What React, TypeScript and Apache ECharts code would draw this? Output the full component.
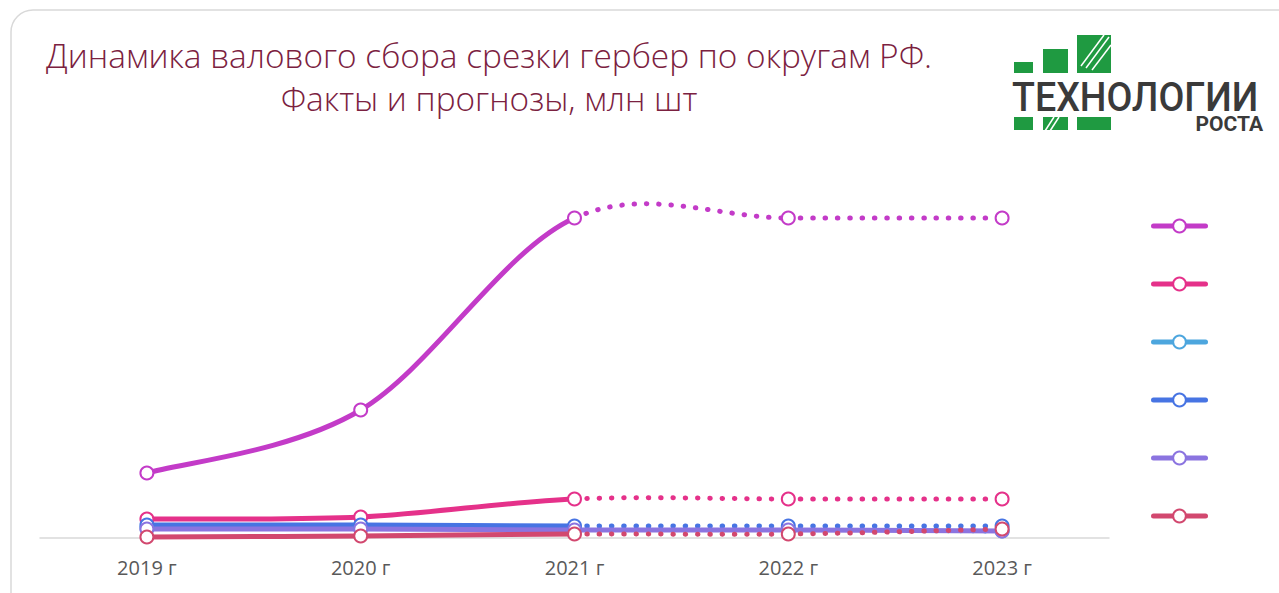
import React, { useEffect, useRef } from 'react';
import * as echarts from 'echarts';

const years = ['2019 г', '2020 г', '2021 г', '2022 г', '2023 г'];
const districtNames = ['ЦФО', 'ЮФО', 'СЗФО', 'ПФО', 'СФО', 'УФО'];
const colors = ['#C33BC8', '#E5318A', '#4DA6DE', '#4774E3', '#8B74E0', '#D2486F'];
const valuesCFO = [6.5, 12.8, 32.0, 32.0, 32.0];
const valuesUFO = [1.9, 2.1, 3.9, 3.9, 3.9];
const valuesSZFO = [1.0, 1.0, 0.9, 0.8, 0.7];
const valuesPFO = [1.3, 1.3, 1.2, 1.2, 1.2];
const valuesSFO = [0.9, 0.9, 0.8, 0.8, 0.7];
const valuesUrFO = [0.1, 0.2, 0.4, 0.4, 0.9];
const allValues = [valuesCFO, valuesUFO, valuesSZFO, valuesPFO, valuesSFO, valuesUrFO];
// index of last year drawn with a solid line (the rest is forecast, dotted)
const lastFactIndex = [2, 2, 2, 2, 4, 2];

const titleLine1 = 'Динамика валового сбора срезки гербер по округам РФ.';
const titleLine2 = 'Факты и прогнозы, млн шт';

const GREEN = '#1F9A41';
const LINE_W = 5;

export default function App() {
  const ref = useRef<HTMLDivElement>(null);
  useEffect(() => {
    if (!ref.current) return;
    const chart = echarts.init(ref.current, undefined, { renderer: 'svg' });
    const curveSeries: any[] = [];
    const markerSeries: any[] = [];
    allValues.forEach((vals, k) => {
      const color = colors[k];
      const end = lastFactIndex[k];
      curveSeries.push({
        type: 'custom',
        name: districtNames[k] + ' линия',
        data: vals.map((v, i) => [i, v]),
        encode: { x: 0, y: 1 },
        z: 2,
        silent: true,
        renderItem: (params: any, api: any) => {
          if (params.dataIndex !== 0) return null;
          const p = vals.map((v, i) => api.coord([i, v]));
          const n = p.length;
          const tangent = (i: number) => {
            const a = p[Math.max(0, i - 1)];
            const b = p[Math.min(n - 1, i + 1)];
            return [(b[0] - a[0]) / 6, (b[1] - a[1]) / 6];
          };
          const children: any[] = [];
          for (let i = 0; i < n - 1; i++) {
            const t0 = tangent(i);
            const t1 = tangent(i + 1);
            const dotted = i >= end;
            children.push({
              type: 'bezierCurve',
              shape: {
                x1: p[i][0], y1: p[i][1],
                cpx1: p[i][0] + t0[0], cpy1: p[i][1] + t0[1],
                cpx2: p[i + 1][0] - t1[0], cpy2: p[i + 1][1] - t1[1],
                x2: p[i + 1][0], y2: p[i + 1][1],
              },
              style: dotted
                ? { stroke: color, lineWidth: LINE_W, lineDash: [0.5, 11.8], lineCap: 'round', fill: null }
                : { stroke: color, lineWidth: LINE_W, lineCap: 'round', fill: null },
            });
          }
          return { type: 'group', children };
        },
      });
      markerSeries.push({
        type: 'line',
        name: districtNames[k],
        data: vals,
        symbol: 'emptyCircle',
        symbolSize: 13,
        showAllSymbol: true,
        lineStyle: { width: LINE_W, color, opacity: 0 },
        itemStyle: { color, borderWidth: 2 },
        z: 3,
      });
    });

    const logoLines = [
      [1081, 66, 1104, 35],
      [1086, 68, 1109, 37],
      [1092, 70, 1111, 45],
      [1045, 131, 1054, 117],
      [1050, 131, 1059, 117],
    ];

    chart.setOption({
      animation: false,
      backgroundColor: '#ffffff',
      grid: { left: 40, right: 170, top: 138, bottom: 55 },
      xAxis: {
        type: 'category',
        data: years,
        boundaryGap: true,
        axisLine: { show: true, lineStyle: { color: '#D9D9D9', width: 1.5 } },
        axisTick: { show: false },
        axisLabel: { color: '#595959', fontSize: 20, fontFamily: 'Open Sans', margin: 19 },
        splitLine: { show: false },
      },
      yAxis: {
        type: 'value',
        min: 0,
        max: 40,
        show: false,
      },
      legend: {
        orient: 'vertical',
        left: 1151,
        top: 218,
        padding: 0,
        itemWidth: 52,
        itemHeight: 16,
        itemGap: 42.6,
        data: districtNames,
        formatter: () => '',
        selectedMode: false,
        lineStyle: { width: LINE_W, opacity: 1, cap: 'round' },
      },
      graphic: [
        {
          type: 'rect',
          silent: true,
          z: -10,
          shape: { x: 11, y: 10, width: 1300, height: 640, r: 22 },
          style: { fill: 'rgba(0,0,0,0)', stroke: '#D9D9D9', lineWidth: 1.5 },
        },
        {
          type: 'text',
          x: 489,
          y: 55,
          style: {
            text: titleLine1,
            fill: '#7B2140',
            font: '300 33.4px "Open Sans"',
            textAlign: 'center',
            textVerticalAlign: 'middle',
          },
        },
        {
          type: 'text',
          x: 489,
          y: 98,
          style: {
            text: titleLine2,
            fill: '#7B2140',
            font: '300 33.4px "Open Sans"',
            textAlign: 'center',
            textVerticalAlign: 'middle',
          },
        },
        { type: 'rect', shape: { x: 1014, y: 62, width: 19, height: 11 }, style: { fill: GREEN } },
        { type: 'rect', shape: { x: 1043, y: 49, width: 25, height: 24 }, style: { fill: GREEN } },
        { type: 'rect', shape: { x: 1077, y: 35, width: 34, height: 38 }, style: { fill: GREEN } },
        { type: 'rect', shape: { x: 1014, y: 117, width: 19, height: 13 }, style: { fill: GREEN } },
        { type: 'rect', shape: { x: 1043, y: 117, width: 25, height: 13 }, style: { fill: GREEN } },
        { type: 'rect', shape: { x: 1077, y: 117, width: 34, height: 13 }, style: { fill: GREEN } },
        ...logoLines.map((l) => ({
          type: 'line',
          shape: { x1: l[0], y1: l[1], x2: l[2], y2: l[3] },
          style: { stroke: '#ffffff', lineWidth: 1.5 },
        })),
        {
          type: 'text',
          x: 1012,
          y: 97,
          scaleX: 0.94,
          style: {
            text: 'ТЕХНОЛОГИИ',
            fill: '#3A3A3A',
            font: '500 40px Roboto',
            textAlign: 'left',
            textVerticalAlign: 'middle',
          },
        },
        {
          type: 'text',
          x: 1263,
          y: 124,
          style: {
            text: 'РОСТА',
            fill: '#3A3A3A',
            font: 'bold 21px Roboto',
            textAlign: 'right',
            textVerticalAlign: 'middle',
          },
        },
      ],
      series: [...curveSeries, ...markerSeries],
    });
    return () => chart.dispose();
  }, []);
  return (
    <div
      ref={ref}
      style={{ position: 'fixed', left: 0, top: 0, width: 1279, height: 593, background: '#fff' }}
    />
  );
}
